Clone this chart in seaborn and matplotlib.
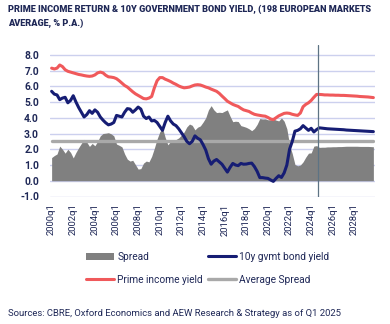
import numpy as np
import pandas as pd
import matplotlib
matplotlib.use("Agg")
import matplotlib.pyplot as plt
from matplotlib.lines import Line2D
from matplotlib.patches import Patch
import seaborn as sns

# Quarterly series, 2000q1 .. 2029q4 (% p.a.)
quarters = [f"{y}q{q}" for y in range(2000, 2030) for q in range(1, 5)]

prime_income_yield = [
    7.15, 7.10, 7.15, 7.35, 7.25, 7.05, 6.95, 6.90, 6.85, 6.80,
    6.75, 6.72, 6.68, 6.65, 6.63, 6.65, 6.72, 6.85, 6.90, 6.85,
    6.70, 6.60, 6.58, 6.55, 6.48, 6.35, 6.20, 6.05, 5.95, 5.80,
    5.65, 5.52, 5.42, 5.32, 5.22, 5.20, 5.25, 5.35, 5.90, 6.35,
    6.55, 6.55, 6.45, 6.38, 6.30, 6.20, 6.12, 6.02, 5.95, 5.90,
    5.92, 5.95, 6.02, 6.08, 6.10, 6.08, 6.02, 5.95, 5.90, 5.82,
    5.75, 5.68, 5.55, 5.38, 5.22, 5.05, 4.95, 4.85, 4.78, 4.72,
    4.60, 4.50, 4.45, 4.40, 4.30, 4.22, 4.18, 4.15, 4.12, 4.10,
    4.02, 3.92, 3.88, 4.00, 4.12, 4.20, 4.28, 4.30, 4.28, 4.22,
    4.18, 4.15, 4.30, 4.70, 4.85, 4.95, 5.10, 5.30, 5.48, 5.48,
    5.47, 5.45, 5.45, 5.44, 5.44, 5.43, 5.43, 5.42, 5.42, 5.41,
    5.40, 5.39, 5.38, 5.37, 5.35, 5.34, 5.33, 5.32, 5.30, 5.28,
]

gov_bond_yield = [
    5.68, 5.50, 5.45, 5.15, 5.25, 5.30, 4.95, 5.10, 5.40, 5.00,
    4.65, 4.35, 4.05, 4.20, 4.45, 4.28, 4.50, 4.35, 4.05, 3.85,
    3.68, 3.55, 3.60, 3.70, 4.15, 4.10, 4.05, 4.35, 4.58, 4.55,
    4.35, 4.50, 4.68, 4.55, 4.10, 3.95, 4.05, 3.80, 3.83, 3.70,
    3.45, 3.20, 3.70, 4.10, 3.80, 3.60, 3.50, 3.30, 3.05, 2.80,
    2.50, 2.35, 2.50, 2.85, 2.70, 2.60, 2.30, 1.95, 1.40, 1.05,
    1.25, 1.35, 1.20, 1.05, 0.80, 0.55, 0.85, 1.10, 1.00, 0.96,
    1.10, 1.05, 1.06, 1.10, 1.12, 0.90, 0.60, 0.20, 0.20, 0.17,
    0.15, 0.05, -0.04, 0.15, 0.32, 0.21, 0.50, 1.00, 2.00, 2.50,
    3.15, 3.20, 3.30, 3.50, 3.35, 3.20, 3.33, 3.10, 3.25, 3.36,
    3.34, 3.32, 3.30, 3.29, 3.28, 3.27, 3.26, 3.25, 3.24, 3.22,
    3.21, 3.20, 3.19, 3.18, 3.17, 3.16, 3.15, 3.14, 3.13, 3.12,
]

average_spread = 2.52
forecast_start = "2024q4"

df = pd.DataFrame({
    "quarter": quarters,
    "prime": prime_income_yield,
    "bond": gov_bond_yield,
})
df["pos"] = np.arange(len(df))
df["spread"] = df["prime"] - df["bond"]
df["avg_spread"] = average_spread

# Styling
NAVY_TEXT = "#1f2857"
RED = "#f0595b"
BLUE = "#161d74"
AREA = "#808080"
AVG = "#a9a9a9"
GRID = "#ccd0ee"

sns.set_theme(style="white")
plt.rcParams["font.family"] = ["Roboto", "DejaVu Sans"]

W, H = 390, 324
fig = plt.figure(figsize=(W / 100, H / 100), dpi=100)
ax = fig.add_axes([50 / W, 1 - 196.5 / H, 325 / W, (196.5 - 45) / H])

ax.fill_between(df["pos"], 0, df["spread"], color=AREA, linewidth=0, zorder=2)
sns.lineplot(data=df, x="pos", y="avg_spread", ax=ax, color=AVG, linewidth=2.4, zorder=3)
sns.lineplot(data=df, x="pos", y="prime", ax=ax, color=RED, linewidth=2.2, zorder=4)
sns.lineplot(data=df, x="pos", y="bond", ax=ax, color=BLUE, linewidth=2.2, zorder=5)

fpos = quarters.index(forecast_start) - 0.3
ax.axvline(fpos, color="#5d7384", linewidth=0.9, zorder=6)

ax.set_xlim(-0.6, len(df) - 0.4)
ax.set_ylim(-1.0, 8.62)
yt = np.arange(-1, 9, 1)
ax.set_yticks(yt)
ax.set_yticklabels([f"{v:.1f}" for v in yt])
tick_pos = list(range(0, len(df), 8))
ax.set_xticks(tick_pos)
ax.set_xticklabels([quarters[i] for i in tick_pos])

ax.grid(axis="y", color=GRID, linewidth=1.0, zorder=0)
ax.grid(axis="x", visible=False)
for s in ax.spines.values():
    s.set_visible(False)
ax.tick_params(axis="y", length=0, pad=8, labelsize=7.4, labelcolor=NAVY_TEXT)
ax.tick_params(axis="x", length=0, pad=5, labelsize=6.8, labelcolor=NAVY_TEXT)
for lbl in ax.get_yticklabels():
    lbl.set_fontweight("bold")
for lbl in ax.get_xticklabels():
    lbl.set_rotation(90)
    lbl.set_ha("center")
    lbl.set_va("top")
ax.set_xlabel("")
ax.set_ylabel("")

title = fig.text(8 / W, 1 - 5 / H,
                 "PRIME INCOME RETURN & 10Y GOVERNMENT BOND YIELD, (198 EUROPEAN MARKETS\nAVERAGE, % P.A.)",
                 ha="left", va="top", fontsize=7.0, fontweight="black", color=NAVY_TEXT,
                 linespacing=1.6)

handles = [
    Patch(facecolor=AREA, edgecolor="none"),
    Line2D([], [], color=RED, linewidth=2.2),
    Line2D([], [], color=BLUE, linewidth=2.2),
    Line2D([], [], color=AVG, linewidth=2.4),
]
labels = ["Spread", "Prime income yield", "10y gvmt bond yield", "Average Spread"]
fig.legend(handles, labels, ncol=2, loc="upper left",
           bbox_to_anchor=(86 / W, 1 - 252 / H), frameon=False,
           fontsize=7.3, labelcolor=NAVY_TEXT, handlelength=2.75,
           handletextpad=0.35, columnspacing=0.45, labelspacing=1.25,
           borderaxespad=0, borderpad=0)

source = fig.text(8 / W, 1 - 313 / H,
                  "Sources: CBRE, Oxford Economics and AEW Research & Strategy as of Q1 2025",
                  ha="left", va="center", fontsize=7.0, color=NAVY_TEXT)


def fit_width(txt, target_px):
    """Scale a text's font size so its rendered width matches target_px."""
    renderer = fig.canvas.get_renderer()
    w = txt.get_window_extent(renderer=renderer).width
    txt.set_fontsize(txt.get_fontsize() * target_px / w)


fit_width(title, 366)
fit_width(source, 334)

fig.savefig("out.png", dpi=100)
